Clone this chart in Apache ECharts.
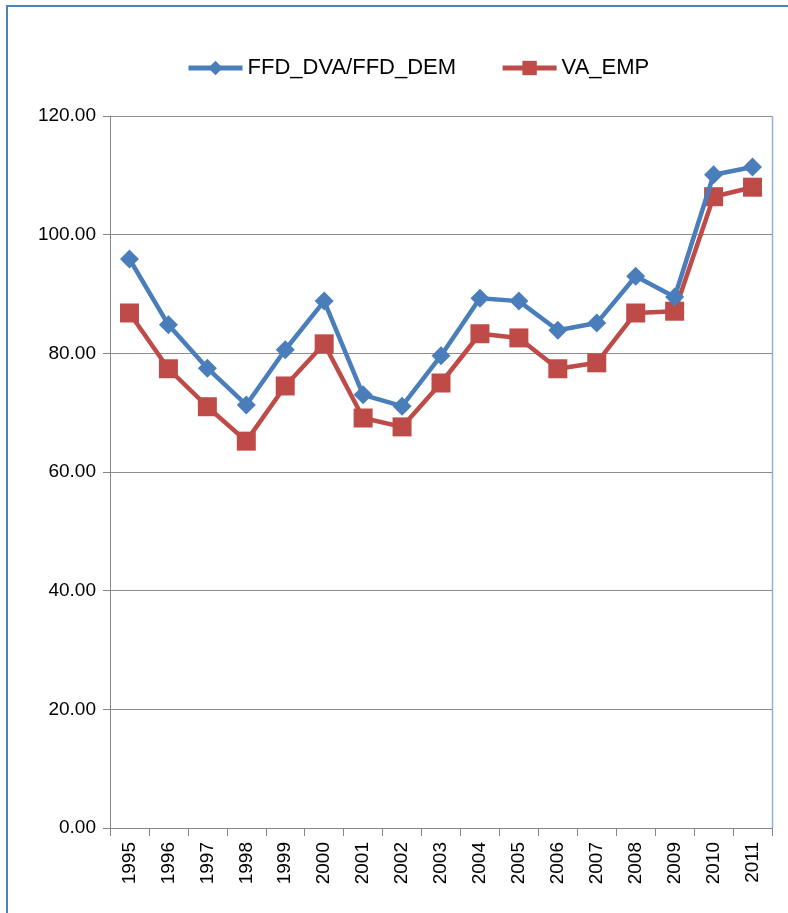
<!DOCTYPE html>
<html>
<head>
<meta charset="utf-8">
<script src="https://cdn.jsdelivr.net/npm/echarts@6/dist/echarts.min.js"></script>
<style>
  html, body { margin: 0; padding: 0; background: #fff; }
  #chart { width: 788px; height: 913px; }
</style>
</head>
<body>
<div id="chart"></div>
<script>
// Years on the category axis
const years = ['1995','1996','1997','1998','1999','2000','2001','2002','2003',
               '2004','2005','2006','2007','2008','2009','2010','2011'];

// Series values
const ffdRatio = [95.9, 84.8, 77.5, 71.3, 80.6, 88.8, 73.0, 71.1, 79.6,
                  89.3, 88.8, 83.9, 85.1, 93.0, 89.5, 110.1, 111.4];
const vaEmp    = [86.8, 77.4, 71.0, 65.2, 74.5, 81.6, 69.1, 67.6, 75.0,
                  83.3, 82.6, 77.4, 78.4, 86.8, 87.1, 106.4, 108.0];

// Value axis ticks
const yMin = 0, yMax = 120, yStep = 20;

const font = 'Liberation Sans, Arial, sans-serif';
const blue = '#4a7ebb';
const red = '#be4b48';

const chart = echarts.init(document.getElementById('chart'));
chart.setOption({
  animation: false,
  textStyle: { fontFamily: font },
  graphic: [
    { type: 'line', shape: { x1: 6, y1: 6, x2: 788, y2: 6 }, style: { stroke: '#4f81bd', lineWidth: 2 } },
    { type: 'line', shape: { x1: 7, y1: 6, x2: 7, y2: 913 }, style: { stroke: '#4f81bd', lineWidth: 2 } },
    { type: 'line', shape: { x1: 772.5, y1: 116, x2: 772.5, y2: 828 }, style: { stroke: '#8fb0dc', lineWidth: 1.5 } }
  ],
  legend: {
    top: 52,
    left: 181,
    itemWidth: 54,
    itemHeight: 18,
    itemGap: 44,
    lineStyle: { width: 5 },
    textStyle: { fontSize: 22, color: '#000', fontFamily: font },
    data: ['FFD_DVA/FFD_DEM', 'VA_EMP']
  },
  grid: { left: 110, right: 16, top: 116, bottom: 85, containLabel: false },
  xAxis: {
    type: 'category',
    data: years,
    boundaryGap: true,
    axisLine: { lineStyle: { color: '#868686', width: 1 } },
    axisTick: { show: true, length: 8, lineStyle: { color: '#868686' } },
    axisLabel: { rotate: 90, fontSize: 19, color: '#000', margin: 14, fontFamily: font }
  },
  yAxis: {
    type: 'value',
    min: yMin, max: yMax, interval: yStep,
    axisLine: { show: true, lineStyle: { color: '#868686', width: 1 } },
    axisTick: { show: true, length: 7, lineStyle: { color: '#868686' } },
    splitLine: { lineStyle: { color: '#8c8c8c', width: 1 } },
    axisLabel: { fontSize: 19, color: '#000', margin: 14, fontFamily: font,
                 formatter: v => v.toFixed(2) }
  },
  series: [
    {
      name: 'FFD_DVA/FFD_DEM',
      type: 'line',
      data: ffdRatio,
      symbol: 'diamond',
      symbolSize: 19,
      itemStyle: { color: blue },
      lineStyle: { color: blue, width: 4.5 },
      z: 3
    },
    {
      name: 'VA_EMP',
      type: 'line',
      data: vaEmp,
      symbol: 'rect',
      symbolSize: 19,
      itemStyle: { color: red },
      lineStyle: { color: red, width: 4.5 },
      z: 2
    }
  ]
});
</script>
</body>
</html>
